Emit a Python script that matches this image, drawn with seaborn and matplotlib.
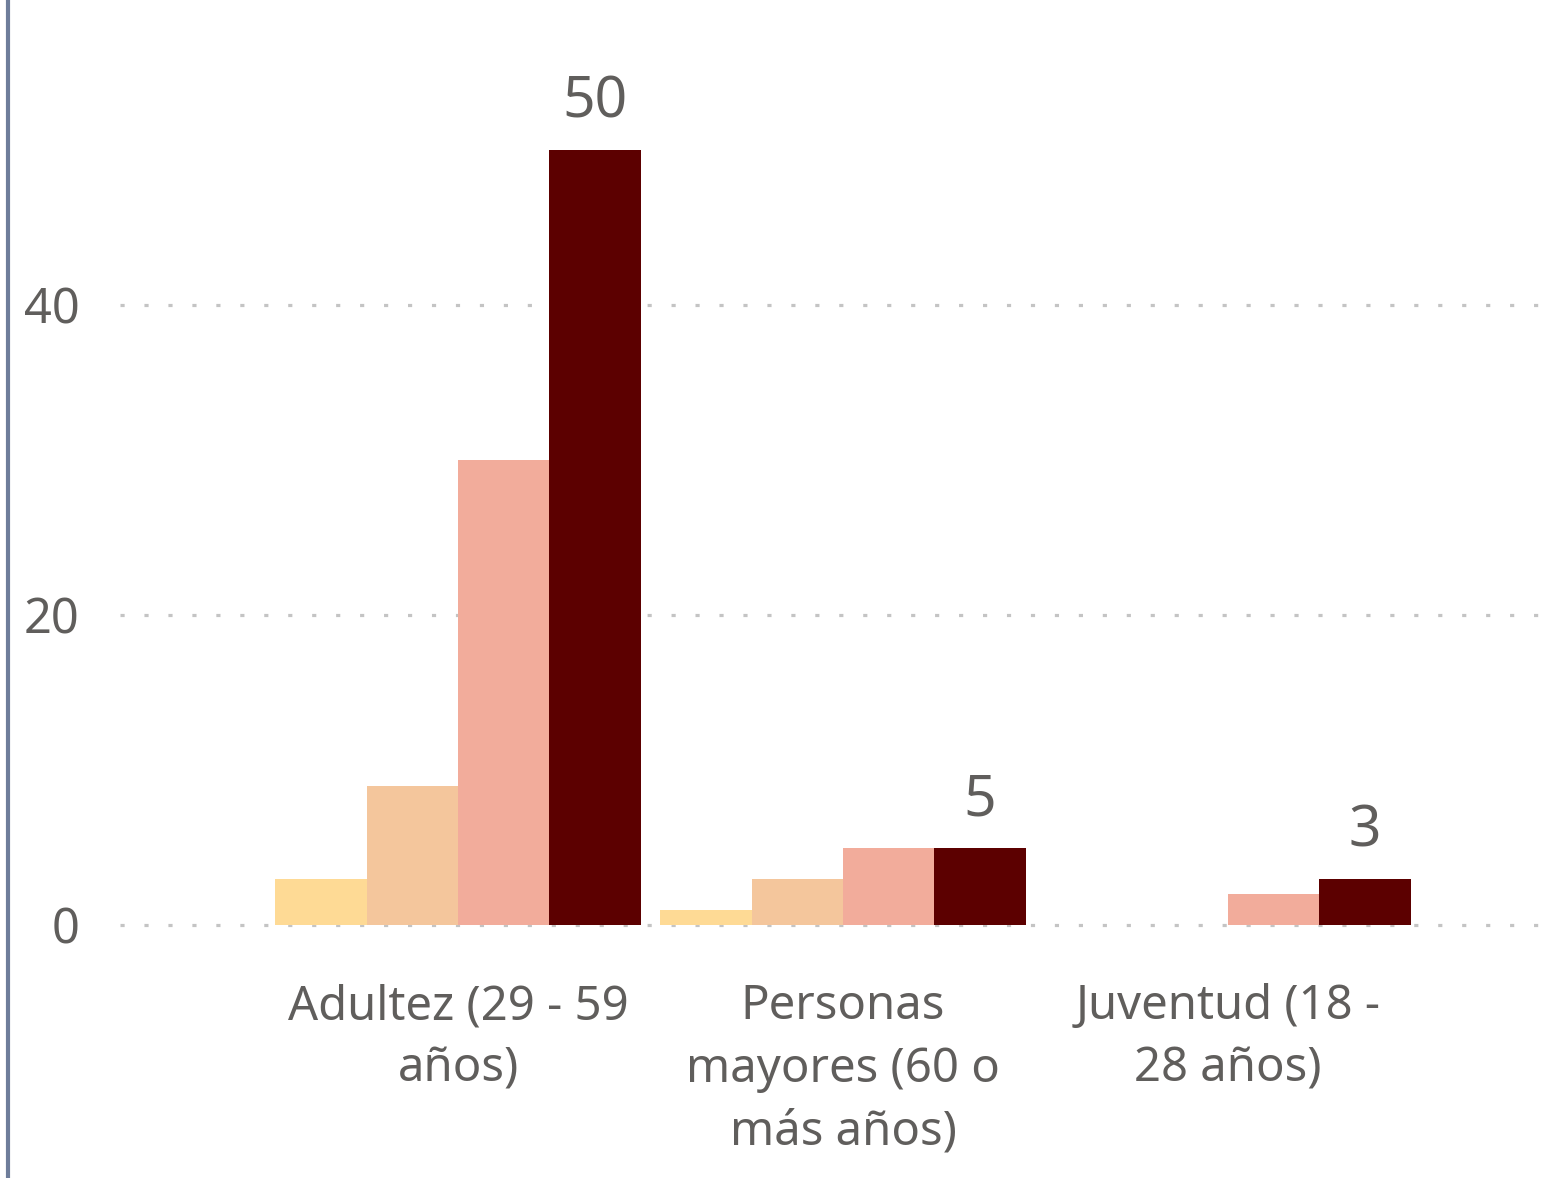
import pandas as pd
import numpy as np
import matplotlib
matplotlib.use('Agg')
import matplotlib.pyplot as plt
from matplotlib.lines import Line2D
import seaborn as sns

# Datos
categorias = ["Adultez (29 - 59\naños)", "Personas\nmayores (60 o\nmás años)", "Juventud (18 -\n28 años)"]
series = ["Serie 1", "Serie 2", "Serie 3", "Serie 4"]
valores_s1 = [3, 1, 0]
valores_s2 = [9, 3, 0]
valores_s3 = [30, 5, 2]
valores_s4 = [50, 5, 3]
colores = ["#FEDA95", "#F4C69C", "#F2AC9B", "#5C0000"]

filas = []
for serie, vals in zip(series, [valores_s1, valores_s2, valores_s3, valores_s4]):
    for cat, v in zip(categorias, vals):
        filas.append({"categoria": cat, "serie": serie, "valor": v})
df = pd.DataFrame(filas)

sns.set_theme(style="white")
plt.rcParams['font.family'] = ['Noto Sans', 'DejaVu Sans']
gris = "#605E5C"

W, H = 1544, 1178
fig = plt.figure(figsize=(W / 100, H / 100), dpi=100)
ax = fig.add_axes([120 / W, 1 - 940 / H, 1424 / W, 940 / H])

sns.barplot(data=df, x="categoria", y="valor", hue="serie", palette=colores,
            width=0.95, saturation=1, ax=ax, legend=False, linewidth=0)

# etiquetas solo para la última serie
ax.bar_label(ax.containers[-1], padding=13, fontsize=41, color=gris)

ax.set_xlim(-0.878, 2.821)
ax.set_ylim(-15 / 15.5, 925 / 15.5)
ax.set_yticks([0, 20, 40])
ax.set_xlabel("")
ax.set_ylabel("")
for s in ax.spines.values():
    s.set_visible(False)
ax.tick_params(axis="both", length=0, colors=gris)
ax.tick_params(axis="y", pad=29, labelsize=35)
ax.tick_params(axis="x", pad=31, labelsize=34)
for lab in ax.get_xticklabels():
    lab.set_linespacing(1.44)

# rejilla punteada
for yv in [0, 20, 40]:
    ax.axhline(yv, color="#C4C4C4", lw=2.3, ls=(0, (1.3, 6.2)), zorder=0)

# línea vertical izquierda
fig.add_artist(Line2D([8 / W, 8 / W], [0, 1], color="#6E7D9A", lw=3))

fig.savefig("out.png", dpi=100)
